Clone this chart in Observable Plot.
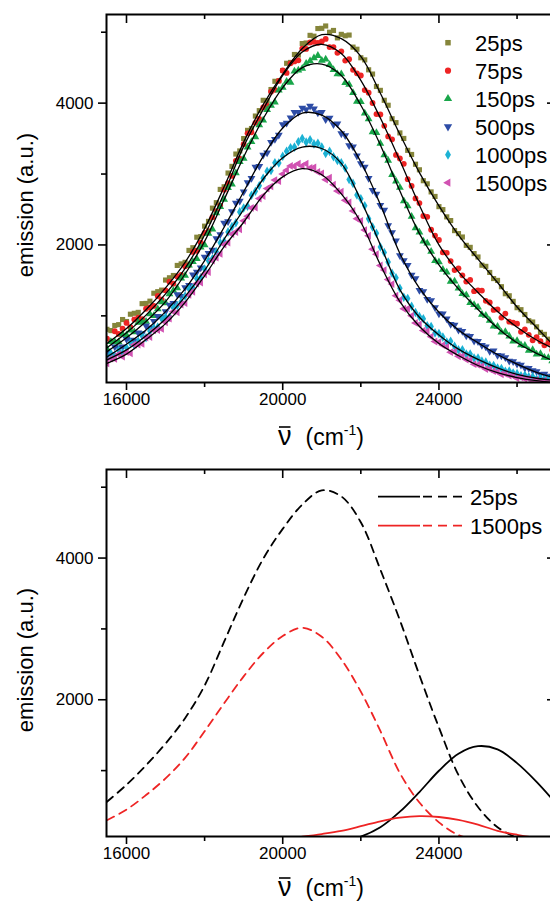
<!DOCTYPE html>
<html><head><meta charset="utf-8">
<script src="https://cdn.jsdelivr.net/npm/d3@7"></script>
<script src="https://cdn.jsdelivr.net/npm/@observablehq/plot@0.6"></script>
<style>
html,body{margin:0;padding:0;background:#fff;overflow:hidden;width:550px;height:901px}
#chart svg{display:block;overflow:visible;max-width:none !important}
</style></head><body><div id="chart"></div>
<script>
// ---------- data ----------
const seriesLabels = ["25ps","75ps","150ps","500ps","1000ps","1500ps"];
const seriesColors = ["#85853a","#ee2424","#19a64a","#2d4ca6","#1cb2d4","#d152b2"];
const xTicksMajor = [16000, 20000, 24000];
const xTicksMinor = [18000, 22000, 26000];
const yTicksMajor = [2000, 4000];
const yTicksMinor = [1000, 3000, 5000];

const scatterWavenumbers = [15500,15600,15700,15800,15900,16000,16100,16200,16300,16400,16500,16600,16700,16800,16900,17000,17100,17200,17300,17400,17500,17600,17700,17800,17900,18000,18100,18200,18300,18400,18500,18600,18700,18800,18900,19000,19100,19200,19300,19400,19500,19600,19700,19800,19900,20000,20100,20200,20300,20400,20500,20600,20700,20800,20900,21000,21100,21200,21300,21400,21500,21600,21700,21800,21900,22000,22100,22200,22300,22400,22500,22600,22700,22800,22900,23000,23100,23200,23300,23400,23500,23600,23700,23800,23900,24000,24100,24200,24300,24400,24500,24600,24700,24800,24900,25000,25100,25200,25300,25400,25500,25600,25700,25800,25900,26000,26100,26200,26300,26400,26500,26600,26700,26800,26900];

const emission25 = [810,792,864,876,948, 920,1023,1036,1049,1172, 1175,1207,1319,1341,1363, 1505,1537,1569,1711,1733, 1755,1923,1961,2109,2117, 2265,2332,2519,2596,2783, 2820,3014,3108,3282,3326, 3500,3616,3642,3818,3894, 4040,4036,4192,4308,4314, 4460,4562,4574,4686,4678, 4840,4848,4956,4944,5052, 5055,5088,5000,5025,4920, 4970,4950,4960,4790,4760, 4640,4610,4470,4410,4235, 4180,4040,3970,3780,3725, 3580,3502,3334,3276,3138, 3060,2906,2862,2748,2684, 2540,2498,2396,2344,2202, 2160,2112,1994,1966,1878, 1830,1714,1698,1612,1526, 1500,1411,1312,1283,1204, 1115,1087,1019,931,913, 845,767,739,671,593];
const emission75 = [679,641,783,745,818, 900,840,950,975,955, 1100,1120,1140,1280,1230, 1360,1482,1454,1556,1578, 1700,1716,1902,1918,2034, 2170,2196,2392,2478,2554, 2780,2872,2974,3186,3218, 3420,3574,3588,3722,3776, 3940,3966,4162,4188,4314, 4460,4426,4562,4588,4604, 4770,4765,4855,4865,4850, 4870,4905,4790,4790,4710, 4730,4600,4620,4470,4420, 4390,4184,4148,4002,3846, 3840,3680,3530,3490,3270, 3220,3144,2928,2832,2656, 2590,2408,2396,2214,2132, 2070,1894,1888,1772,1646, 1670,1572,1484,1506,1348, 1360,1356,1212,1188,1084, 1090,976,1032,918,904, 890,774,808,732,656, 700,642,584,616,518];
const emission150 = [535,634,633,632,741, 730,796,772,908,914, 920,1026,1002,1098,1194, 1180,1308,1356,1394,1532, 1570,1712,1764,1806,1968, 2000,2160,2220,2450,2540, 2640,2808,2856,3014,3172, 3220,3378,3456,3524,3692, 3760,3908,3966,4014,4182, 4220,4306,4292,4448,4464, 4490,4560,4595,4635,4670, 4600,4620,4540,4470,4410, 4410,4286,4262,4148,4024, 4020,3858,3776,3594,3582, 3430,3270,3190,2990,2900, 2810,2620,2550,2400,2240, 2180,2052,2024,1906,1778, 1760,1652,1614,1486,1488, 1390,1312,1294,1186,1158, 1120,1018,1006,934,852, 850,768,776,714,642, 650,590,580,510,520, 460,466,412,408,364];
const emission500 = [472,458,563,549,564, 670,660,650,760,750, 860,832,924,996,978, 1060,1154,1178,1302,1276, 1400,1430,1580,1620,1680, 1830,1884,1928,2092,2146, 2310,2330,2470,2590,2620, 2750,2880,2940,3100,3110, 3270,3300,3450,3490,3550, 3700,3720,3795,3870,3870, 3930,3910,3960,3920,3865, 3870,3770,3790,3700,3710, 3570,3542,3404,3386,3258, 3150,3100,2940,2770,2720, 2560,2492,2274,2176,2058, 1850,1782,1714,1576,1528, 1360,1342,1234,1216,1118, 1030,1030,960,880,870, 800,784,718,712,646, 640,587,564,501,508, 445,438,411,364,357, 320,307,264,261,228, 214,177,180,153,146];
const emission1000 = [410,468,436,514,472, 550,620,590,640,720, 690,788,826,844,962, 980,982,1114,1146,1198, 1280,1384,1398,1522,1536, 1660,1778,1806,1904,2032, 2050,2184,2258,2312,2466, 2520,2546,2702,2758,2834, 2940,3040,3050,3160,3155, 3250,3320,3370,3380,3455, 3500,3450,3482,3425,3435, 3380,3290,3320,3245,3190, 3160,3086,2922,2868,2704, 2650,2554,2368,2252,2166, 1970,1894,1758,1602,1536, 1390,1262,1244,1136,1048, 990,960,860,850,760, 750,700,630,640,570, 520,521,462,463,404, 405,361,347,303,299, 265,257,219,221,193, 185,154,163,142,141, 110,124,108,112,96];
const emission1500 = [330,396,392,458,424, 490,471,592,593,604, 695,700,795,800,815, 910,960,1060,1050,1160, 1180,1295,1340,1455,1470, 1585,1617,1779,1821,1873, 2005,2034,2153,2182,2221, 2340,2406,2522,2528,2654, 2690,2795,2825,2915,2900, 3000,3055,3115,3110,3145, 3115,3145,3085,3095,3030, 3010,2920,2950,2850,2760, 2750,2630,2600,2480,2370, 2340,2210,2130,1940,1870, 1710,1646,1512,1448,1284, 1220,1100,1100,1000,900, 880,792,784,706,638, 630,586,562,488,494, 430,432,384,376,318, 310,290,250,250,220, 210,176,182,158,154, 120,131,112,113,84, 95,80,85,70,70];

const fitWavenumbers = [15500,16000,16500,17000,17500,18000,18500,19000,19500,20000,20500,21000,21500,22000,22500,23000,23500,24000,24500,25000,25500,26000,26500,27000];
const fit25 = [610,820,1085,1395,1755,2230,2820,3450,3980,4410,4770,4965,4910,4660,4140,3560,3020,2550,2140,1800,1470,1125,835,545];
const fit75 = [549,760,1010,1310,1670,2140,2730,3390,3910,4390,4720,4830,4700,4320,3790,3190,2560,2000,1620,1330,1060,840,660,520];
const fit150 = [495,690,920,1200,1590,2050,2640,3240,3780,4220,4500,4550,4390,3970,3410,2760,2160,1720,1380,1090,830,620,470,350];
const fit500 = [422,600,800,1060,1380,1780,2250,2750,3250,3650,3860,3830,3610,3170,2570,1880,1390,1050,800,620,455,320,204,120];
const fit1000 = [380,520,720,960,1270,1640,2080,2500,2930,3230,3380,3360,3150,2630,2000,1370,980,730,530,385,265,175,120,90];
const fit1500 = [330,460,665,890,1190,1565,1975,2320,2700,2960,3075,2990,2720,2320,1720,1200,850,610,440,300,200,130,85,60];

// lower panel: band decomposition
const band1_25ps = [560,800,1075,1382,1740,2200,2820,3440,3990,4412,4754,4955,4870,4505,3837,3122,2347,1608,938,486,200,50,null,null];
const band2_25ps = [null,null,null,null,null,null,null,null,null,null,null,0,12,70,200,420,698,998,1239,1345,1300,1106,842,535];
const band1_1500ps = [300,450,655,890,1180,1555,1950,2330,2660,2900,3015,2890,2570,2115,1560,965,550,270,90,15,null,null,null,null];
const band2_1500ps = [null,null,null,null,null,null,null,null,10,35,68,105,150,215,285,335,357,345,305,237,150,95,50,25];
const lowerLabels = ["25ps","1500ps"];
const lowerColors = ["#000000","#ee2424"];

// ---------- helpers ----------
const s3 = Math.sqrt(3);
const triDown = {draw(c, size){const y=-Math.sqrt(size/(s3*3)); c.moveTo(0,-2*y); c.lineTo(-s3*y,y); c.lineTo(s3*y,y); c.closePath();}};
const triLeft = {draw(c, size){const y=-Math.sqrt(size/(s3*3)); c.moveTo(2*y,0); c.lineTo(-y,-s3*y); c.lineTo(-y,s3*y); c.closePath();}};
const plotSymbols = ["square","circle","triangle",triDown,"diamond",triLeft];
const d3Symbols = [d3.symbolSquare,d3.symbolCircle,d3.symbolTriangle,triDown,d3.symbolDiamond,triLeft];

const scatterSets = [emission25,emission75,emission150,emission500,emission1000,emission1500];
const fitSets = [fit25,fit75,fit150,fit500,fit1000,fit1500];
const table = (xs, ys) => xs.map((x,i)=>({x, y: ys[i]}));

const FONT = "Liberation Sans, Arial, Helvetica, sans-serif";
const W = 556, ML = 106, MR = 0;
const xDomain = [15488, 27010];

function axes(frameH){
  const frameW = W - ML - MR;
  return [
    Plot.axisY(yTicksMajor, {tickSize: 8, tickPadding: 5, tickFormat: "d", strokeWidth: 1.6, fontSize: 17, label: null}),
    Plot.axisY(yTicksMinor, {tickSize: 5, fill: "none", strokeWidth: 1.6, label: null}),
    Plot.axisX(xTicksMajor, {tickSize: 8, tickPadding: 2, tickFormat: "d", strokeWidth: 1.6, fontSize: 17, label: null}),
    Plot.axisX(xTicksMinor, {tickSize: 5, fill: "none", strokeWidth: 1.6, label: null}),
    Plot.tickX(xTicksMajor, {x: d=>d, insetBottom: frameH - 9, strokeWidth: 1.6}),
    Plot.tickX(xTicksMinor, {x: d=>d, insetBottom: frameH - 5, strokeWidth: 1.6}),
    Plot.tickY(yTicksMajor, {y: d=>d, insetLeft: frameW - 9, strokeWidth: 1.6}),
    Plot.tickY(yTicksMinor, {y: d=>d, insetLeft: frameW - 5, strokeWidth: 1.6}),
    Plot.frame({stroke: "#000", strokeWidth: 2})
  ];
}

function addTitles(svg, xBase, yCenter){
  const s = d3.select(svg);
  const t = s.append("text").attr("x", 278).attr("y", xBase)
    .attr("text-anchor","start").attr("font-family", FONT).attr("font-size", 23).attr("fill","#000");
  t.append("tspan").attr("font-size", 27).text("\u03BD");
  t.append("tspan").attr("dx", 14).text("(cm");
  t.append("tspan").attr("font-size", 14).attr("dy", -10).text("-1");
  t.append("tspan").attr("dy", 10).text(")");
  const n = t.node();
  const a = n.getStartPositionOfChar(0), b = n.getEndPositionOfChar(0);
  s.append("line").attr("x1", a.x + 1).attr("x2", b.x - 1).attr("y1", xBase - 18).attr("y2", xBase - 18)
    .attr("stroke", "#000").attr("stroke-width", 1.6);
  s.append("text").attr("transform", `translate(33,${yCenter}) rotate(-90)`)
    .attr("text-anchor","middle").attr("font-family", FONT).attr("font-size", 22).attr("fill","#000")
    .text("emission (a.u.)");
}

// ---------- upper panel ----------
const topH = 455, topMT = 14, topMB = 73;
const upper = Plot.plot({
  width: W, height: topH, marginLeft: ML, marginRight: MR, marginTop: topMT, marginBottom: topMB,
  x: {domain: xDomain},
  y: {domain: [60, 5250]},
  style: {fontFamily: FONT, color: "#000", background: "transparent", overflow: "visible", maxWidth: "none"},
  marks: [
    ...scatterSets.map((vals,k) => Plot.dot(table(scatterWavenumbers, vals), {x:"x", y:"y", r: 2.9, symbol: plotSymbols[k], fill: seriesColors[k], stroke: "none", clip: true})),
    ...fitSets.map(vals => Plot.line(table(fitWavenumbers, vals), {x:"x", y:"y", stroke:"#000", strokeWidth: 1.3, curve: "catmull-rom", clip: true})),
    ...axes(topH - topMT - topMB)
  ]
});
document.getElementById("chart").appendChild(upper);
{
  const s = d3.select(upper);
  seriesLabels.forEach((lab,k) => {
    const cy = 42.7 + 28 * k;
    s.append("path").attr("transform", `translate(448,${cy})`).attr("d", d3.symbol().type(d3Symbols[k]).size(30)()).attr("fill", seriesColors[k]);
    s.append("text").attr("x", 475).attr("y", cy + 8).attr("text-anchor", "start").attr("font-family", FONT).attr("font-size", 22).attr("fill", "#000").text(lab);
  });
  addTitles(upper, 445, 205);
}

// ---------- lower panel ----------
const botH = 446, botMT = 14, botMB = 65;
const lower = Plot.plot({
  width: W, height: botH, marginLeft: ML, marginRight: MR, marginTop: botMT, marginBottom: botMB,
  x: {domain: xDomain},
  y: {domain: [70, 5250]},
  style: {fontFamily: FONT, color: "#000", background: "transparent", overflow: "visible", maxWidth: "none"},
  marks: [
    Plot.line(table(fitWavenumbers, band1_25ps), {x:"x", y:"y", stroke: lowerColors[0], strokeWidth: 1.8, strokeDasharray: "8,6", curve: "catmull-rom", clip: true}),
    Plot.line(table(fitWavenumbers, band1_1500ps), {x:"x", y:"y", stroke: lowerColors[1], strokeWidth: 1.8, strokeDasharray: "8,6", curve: "catmull-rom", clip: true}),
    Plot.line(table(fitWavenumbers, band2_25ps), {x:"x", y:"y", stroke: lowerColors[0], strokeWidth: 1.8, curve: "catmull-rom", clip: true}),
    Plot.line(table(fitWavenumbers, band2_1500ps), {x:"x", y:"y", stroke: lowerColors[1], strokeWidth: 1.8, curve: "catmull-rom", clip: true}),
    ...axes(botH - botMT - botMB)
  ]
});
document.getElementById("chart").appendChild(lower);
{
  const s = d3.select(lower);
  lowerLabels.forEach((lab,k) => {
    const cy = 41.7 + 29 * k;
    s.append("line").attr("x1", 378).attr("x2", 420).attr("y1", cy).attr("y2", cy).attr("stroke", lowerColors[k]).attr("stroke-width", 1.8);
    s.append("line").attr("x1", 423).attr("x2", 466).attr("y1", cy).attr("y2", cy).attr("stroke", lowerColors[k]).attr("stroke-width", 1.8).attr("stroke-dasharray", "9,6");
    s.append("text").attr("x", 470).attr("y", cy + 8).attr("text-anchor", "start").attr("font-family", FONT).attr("font-size", 22).attr("fill", "#000").text(lab);
  });
  addTitles(lower, 441, 205);
}
</script>
</body></html>
